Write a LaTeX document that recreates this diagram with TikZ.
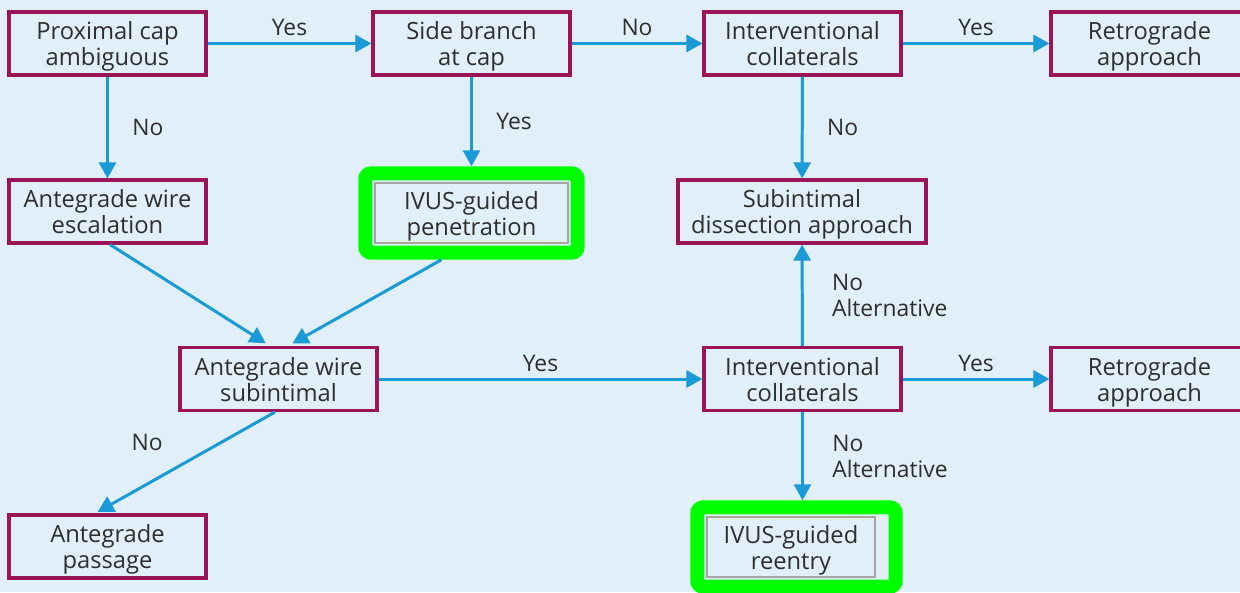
\documentclass[tikz,border=0pt]{standalone}
\usepackage{fontspec}
\setmainfont{Open Sans}
\usetikzlibrary{arrows.meta,positioning,fit}

\definecolor{bgblue}{HTML}{E0EFF8}
\definecolor{boxred}{HTML}{9B1457}
\definecolor{flowblue}{HTML}{1A9AD6}
\definecolor{txtgray}{HTML}{2E2E2E}
\definecolor{hlgreen}{HTML}{00FF00}

\tikzset{
  stage/.style={draw=boxred, line width=1.8pt, text=txtgray, align=center,
    minimum width=3.94cm, minimum height=1.26cm, inner sep=0pt, text depth=0pt,
    font=\fontsize{13.5}{14.8}\selectfont},
  marked/.style={stage, draw=black!35, line width=1.4pt, minimum height=1.2cm},
  greenframe/.style={draw=hlgreen, line width=0.28cm, rounded corners=0.12cm,
    inner sep=0.17cm},
  flow/.style={draw=flowblue, line width=1.7pt,
    -{Triangle[length=0.32cm,width=0.34cm]}},
  tag/.style={text=txtgray, font=\fontsize{13}{14.8}\selectfont, align=left}
}

\begin{document}
\begin{tikzpicture}[x=0.02cm, y=-0.02cm]
  \useasboundingbox (0,0) rectangle (1240,592);
  \clip (0,0) rectangle (1240,592);
  \fill[bgblue] (0,0) rectangle (1240,592);

  \node[stage] (prox) at (107.5,43.5) {Proximal cap\\ambiguous};
  \node[stage] (side) at (471.5,43.5) {Side branch\\at cap};
  \node[stage] (coltop) at (802.5,43.5) {Interventional\\collaterals};
  \node[stage] (retrotop) at (1149.5,43.5) {Retrograde\\approach};

  \node[stage] (escal) at (107.5,211.5) {Antegrade wire\\escalation};
  \node[marked, minimum width=3.86cm] (pen) at (471.5,213) {IVUS-guided\\penetration};
  \node[greenframe, fit=(pen)] (penframe) {};
  \node[stage, minimum width=4.96cm] (subint) at (802,211.5) {Subintimal\\dissection approach};

  \node[stage] (wiresub) at (278.5,379) {Antegrade wire\\subintimal};
  \node[stage] (colmid) at (802.5,379) {Interventional\\collaterals};
  \node[stage] (retromid) at (1149.5,379) {Retrograde\\approach};

  \node[stage] (passage) at (107.5,546.5) {Antegrade\\passage};
  \node[marked, minimum width=3.36cm] (reentry) at (791,547) {IVUS-guided\\reentry};
  \coordinate (reedge) at ([xshift=0.22cm]reentry.east);
  \node[greenframe, fit=(reentry) (reedge)] (reframe) {};

  \draw[flow] (prox) -- node[tag, above] {Yes} (side);
  \draw[flow] (side) -- node[tag, above] {No} (coltop);
  \draw[flow] (coltop) -- node[tag, above] {Yes} (retrotop);
  \draw[flow] (prox) -- node[tag, right, xshift=0.35cm] {No} (escal);
  \draw[flow] (side) -- node[tag, right, xshift=0.35cm] {Yes} (penframe);
  \draw[flow] (coltop) -- node[tag, right, xshift=0.35cm] {No} (subint);

  \draw[flow, shorten >=0.1cm] ([xshift=0.05cm]escal.south) -- ([xshift=-0.17cm]wiresub.north);
  \draw[flow, shorten >=0.1cm] ([xshift=-0.6cm]penframe.south) -- ([xshift=0.19cm]wiresub.north);

  \draw[flow] (wiresub) -- node[tag, above] {Yes} (colmid);
  \draw[flow] (colmid) -- node[tag, right, xshift=0.45cm] {No\\Alternative} (subint);
  \draw[flow] (colmid) -- node[tag, above] {Yes} (retromid);
  \draw[flow] (colmid.south) -- node[tag, right, xshift=0.45cm] {No\\Alternative} (colmid.south |- reframe.north);
  \draw[flow, shorten >=0.06cm] ([xshift=-0.07cm]wiresub.south) -- node[tag, above left, xshift=-0.3cm, yshift=0.1cm] {No} ([xshift=-0.25cm]passage.north);
\end{tikzpicture}
\end{document}
